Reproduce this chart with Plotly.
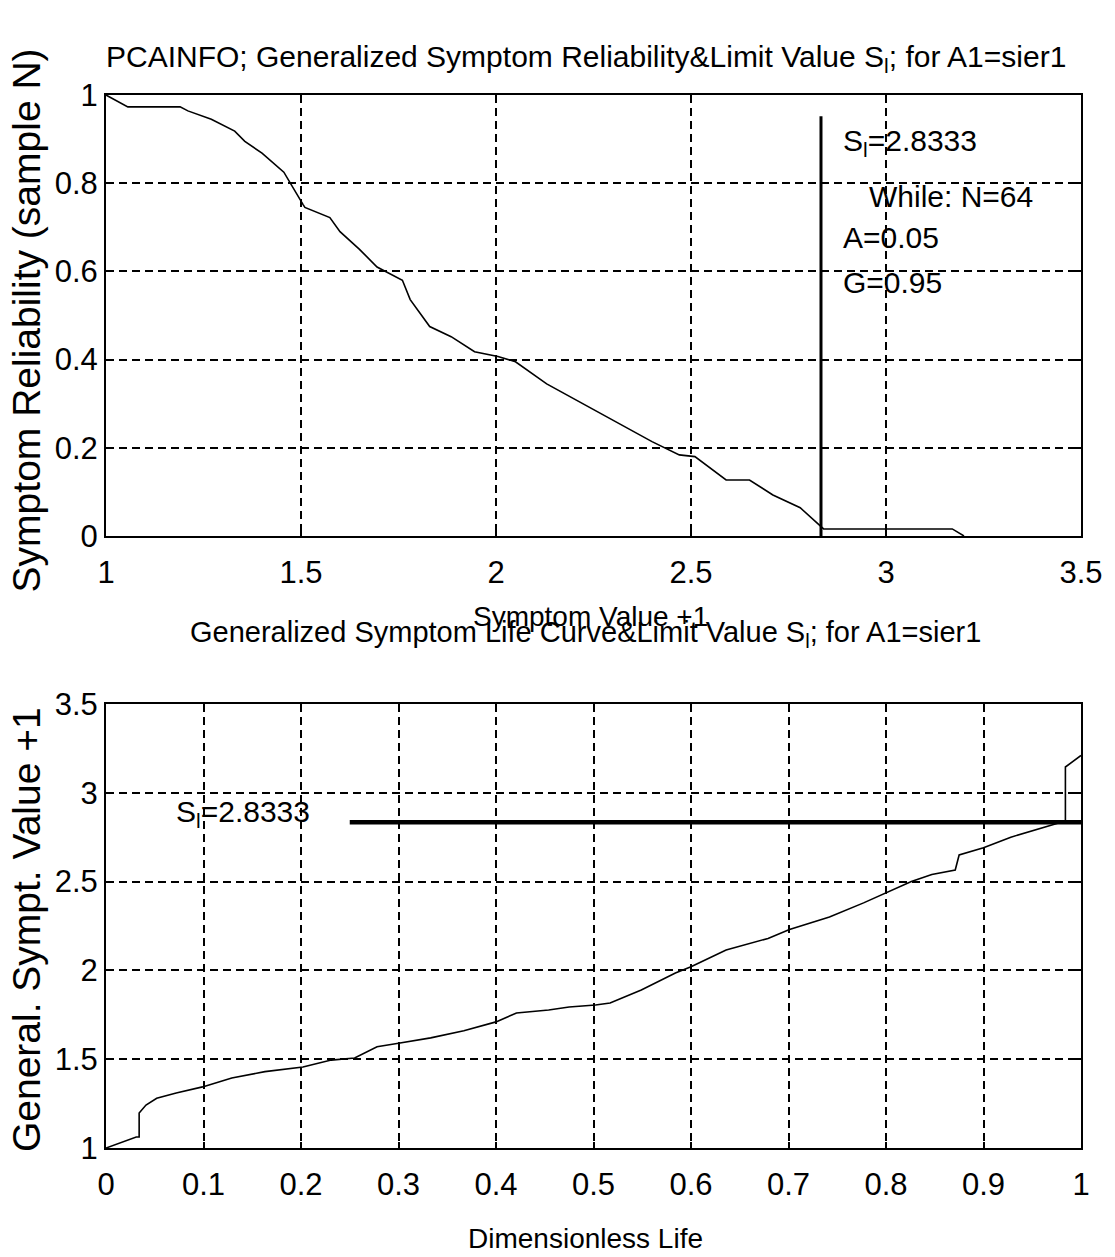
import plotly.graph_objects as go

# ---------------- data ----------------
SL = 2.8333  # limit value S_l

# top: symptom reliability vs symptom value +1
rel_x = [1.0, 1.056, 1.19, 1.21, 1.27, 1.33, 1.356, 1.40, 1.456, 1.474, 1.505, 1.51,
         1.574, 1.60, 1.63, 1.65, 1.695, 1.76, 1.78, 1.81, 1.83, 1.885, 1.945, 2.005,
         2.05, 2.13, 2.26, 2.40, 2.47, 2.51, 2.59, 2.65, 2.71, 2.78, 2.84, 3.17, 3.20]
rel_y = [1.0, 0.973, 0.973, 0.964, 0.945, 0.918, 0.895, 0.868, 0.825, 0.797, 0.752, 0.745,
         0.722, 0.69, 0.666, 0.65, 0.61, 0.58, 0.536, 0.498, 0.475, 0.452, 0.418, 0.407,
         0.395, 0.345, 0.282, 0.214, 0.184, 0.18, 0.127, 0.127, 0.093, 0.064, 0.016, 0.016, 0.0]

lim_v_x = [SL, SL]
lim_v_y = [0.0, 0.952]

# bottom: generalized symptom life curve
life_x = [0.0, 0.031, 0.034, 0.034, 0.041, 0.052, 0.072, 0.099, 0.129, 0.163, 0.202, 0.231,
          0.255, 0.278, 0.30, 0.333, 0.367, 0.40, 0.421, 0.454, 0.475, 0.502, 0.517, 0.549,
          0.584, 0.60, 0.636, 0.679, 0.701, 0.742, 0.777, 0.80, 0.826, 0.847, 0.871, 0.875,
          0.90, 0.928, 0.953, 0.977, 0.984, 0.984, 1.0]
life_y = [1.0, 1.062, 1.062, 1.197, 1.242, 1.28, 1.31, 1.344, 1.394, 1.43, 1.456, 1.495,
          1.507, 1.57, 1.59, 1.62, 1.66, 1.71, 1.76, 1.777, 1.794, 1.805, 1.816, 1.89,
          1.985, 2.02, 2.115, 2.18, 2.23, 2.30, 2.38, 2.435, 2.50, 2.54, 2.565, 2.65,
          2.69, 2.75, 2.79, 2.83, 2.835, 3.145, 3.21]

lim_h_x = [0.25, 1.0]
lim_h_y = [SL, SL]

top_xticks = [1, 1.5, 2, 2.5, 3, 3.5]
top_yticks = [0, 0.2, 0.4, 0.6, 0.8, 1]
bot_xticks = [0, 0.1, 0.2, 0.3, 0.4, 0.5, 0.6, 0.7, 0.8, 0.9, 1]
bot_yticks = [1, 1.5, 2, 2.5, 3, 3.5]

top_title = "PCAINFO; Generalized Symptom Reliability&Limit Value S<sub>l</sub>; for A1=sier1"
bot_title = "Generalized Symptom Life Curve&Limit Value S<sub>l</sub>; for A1=sier1"
top_info = ["S<sub>l</sub>=2.8333", "While: N=64", "A=0.05", "G=0.95"]

# ---------------- figure ----------------
FONT = "Liberation Sans, Arial, sans-serif"

fig = go.Figure()
fig.add_trace(go.Scatter(x=rel_x, y=rel_y, mode="lines", line=dict(color="black", width=1.6),
                         xaxis="x", yaxis="y", showlegend=False))
fig.add_trace(go.Scatter(x=lim_v_x, y=lim_v_y, mode="lines", line=dict(color="black", width=3),
                         xaxis="x", yaxis="y", showlegend=False))
fig.add_trace(go.Scatter(x=life_x, y=life_y, mode="lines", line=dict(color="black", width=1.6),
                         xaxis="x2", yaxis="y2", showlegend=False))
fig.add_trace(go.Scatter(x=lim_h_x, y=lim_h_y, mode="lines", line=dict(color="black", width=4.5),
                         xaxis="x2", yaxis="y2", showlegend=False))

axis_common = dict(showline=True, linecolor="black", linewidth=2, mirror="ticks",
                   ticks="inside", ticklen=6, tickcolor="black", tickwidth=1.5,
                   showgrid=True, gridcolor="black", gridwidth=2, griddash="8px,5px",
                   zeroline=False, tickfont=dict(family=FONT, size=31, color="black"))

fig.update_layout(
    width=1115, height=1257,
    margin=dict(l=106, r=25, t=95, b=109),
    paper_bgcolor="white", plot_bgcolor="white",
    xaxis=dict(domain=[0, 1], range=[1, 3.5], tickvals=top_xticks,
               ticktext=[str(v) for v in top_xticks], anchor="y",
               ticklabelstandoff=8, **axis_common),
    yaxis=dict(domain=[0.5812, 1], range=[0, 1], tickvals=top_yticks,
               ticktext=[("%g" % v) for v in top_yticks], anchor="x", **axis_common),
    xaxis2=dict(domain=[0, 1], range=[0, 1], tickvals=bot_xticks,
                ticktext=[("%g" % v) for v in bot_xticks], anchor="y2",
                ticklabelstandoff=8, **axis_common),
    yaxis2=dict(domain=[0, 0.4217], range=[1, 3.5], tickvals=bot_yticks,
                ticktext=[("%g" % v) for v in bot_yticks], anchor="x2", **axis_common),
)

ann = []
def paper_text(text, x, y, size=28, angle=0):
    ann.append(dict(text=text, x=x, y=y, xref="paper", yref="paper",
                    xanchor="center", yanchor="middle", textangle=angle,
                    showarrow=False, font=dict(family=FONT, size=size, color="black")))

paper_text(top_title, 0.492, 1.035, size=30)
paper_text(bot_title, 0.492, 0.488, size=29)
paper_text("Symptom Value +1", 0.497, 0.505)
paper_text("Dimensionless Life", 0.492, -0.0855)
paper_text("Symptom Reliability (sample N)", -0.082, 0.786, size=39, angle=-90)
paper_text("General. Sympt. Value +1", -0.082, 0.207, size=39, angle=-90)

# info texts top plot
info_pos = [(2.885, 0.893), (2.95, 0.769), (2.885, 0.676), (2.885, 0.574)]
for t, (px, py) in zip(top_info, info_pos):
    ann.append(dict(text=t, x=px, y=py, xref="x", yref="y", xanchor="left",
                    yanchor="middle", showarrow=False,
                    font=dict(family=FONT, size=30, color="black")))
ann.append(dict(text="S<sub>l</sub>=2.8333", x=0.070, y=2.886, xref="x2", yref="y2",
                xanchor="left", yanchor="middle", showarrow=False,
                font=dict(family=FONT, size=30, color="black")))
fig.update_layout(annotations=ann)

fig.write_html("out.html")
